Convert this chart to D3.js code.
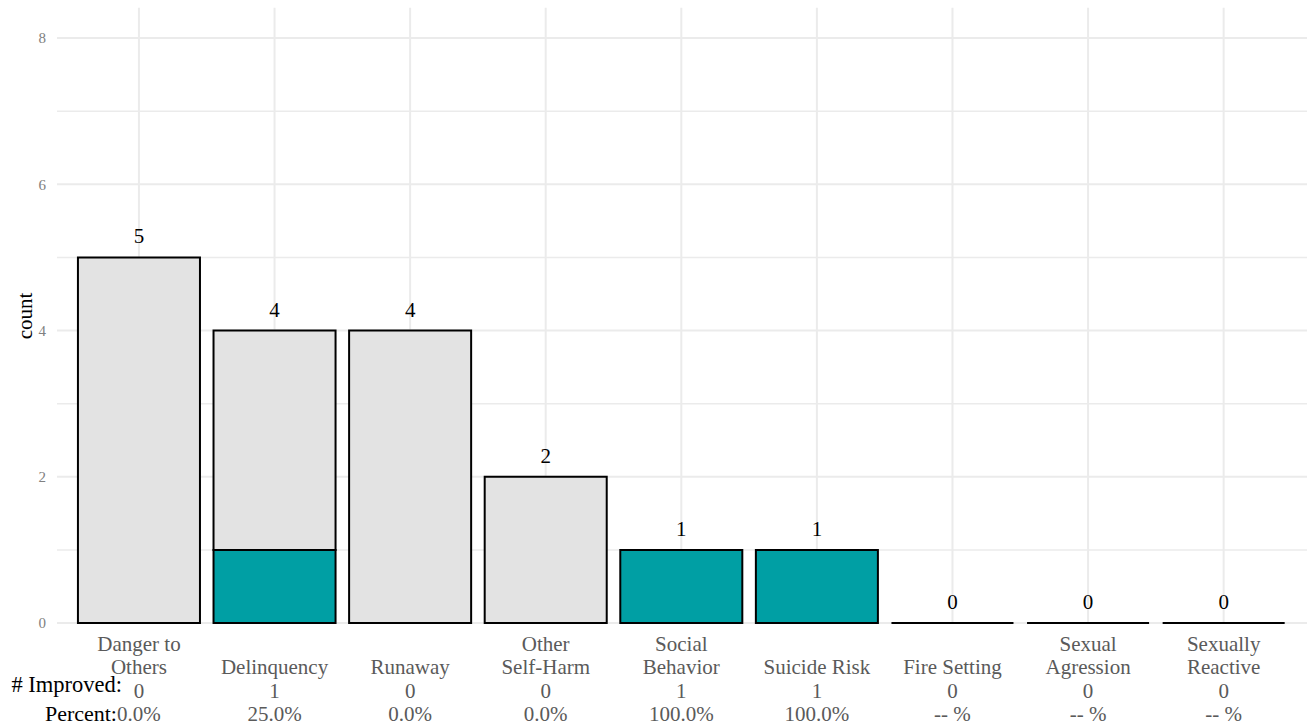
<!DOCTYPE html>
<html>
<head>
<meta charset="utf-8">
<script src="https://cdn.jsdelivr.net/npm/d3@7"></script>
<style>
  html, body { margin: 0; padding: 0; background: #fff; }
  svg { display: block; font-family: "Liberation Serif", "Times New Roman", serif; }
</style>
</head>
<body>
<svg id="chart" width="1307" height="728"></svg>
<script>
const categories = ["Danger to\nOthers", "Delinquency", "Runaway", "Other\nSelf-Harm", "Social\nBehavior", "Suicide Risk", "Fire Setting", "Sexual\nAgression", "Sexually\nReactive"];
const totals = [5, 4, 4, 2, 1, 1, 0, 0, 0];
const improved = [0, 1, 0, 0, 1, 1, 0, 0, 0];
const percentLabels = ["0.0%", "25.0%", "0.0%", "0.0%", "100.0%", "100.0%", "-- %", "-- %", "-- %"];
const yTicks = [0, 2, 4, 6, 8];
const yMinorTicks = [1, 3, 5, 7];

const svg = d3.select("#chart");
const panel = { left: 57.6, right: 1305, top: 8.75, bottom: 623 };

const x = d3.scaleBand().domain(categories).range([panel.left, panel.right]).paddingInner(0.1).paddingOuter(0.15);
const y = d3.scaleLinear().domain([0, 8.4]).range([panel.bottom, panel.top]);

const gridColor = "#EBEBEB";
svg.append("g").selectAll("line").data(yMinorTicks).join("line")
  .attr("x1", panel.left - 0.6).attr("x2", 1307)
  .attr("y1", d => y(d)).attr("y2", d => y(d))
  .attr("stroke", gridColor).attr("stroke-width", 1.5);
svg.append("g").selectAll("line").data(yTicks).join("line")
  .attr("x1", panel.left - 0.6).attr("x2", 1307)
  .attr("y1", d => y(d)).attr("y2", d => y(d))
  .attr("stroke", gridColor).attr("stroke-width", 2);
svg.append("g").selectAll("line").data(categories).join("line")
  .attr("x1", d => x(d) + x.bandwidth() / 2).attr("x2", d => x(d) + x.bandwidth() / 2)
  .attr("y1", panel.top - 1).attr("y2", panel.bottom)
  .attr("stroke", gridColor).attr("stroke-width", 2);

svg.append("g").selectAll("text").data(yTicks).join("text")
  .attr("x", 46).attr("y", d => y(d)).attr("dy", "0.35em")
  .attr("text-anchor", "end").attr("font-size", 15).attr("fill", "#808080")
  .text(d => d);

svg.append("text")
  .attr("transform", `translate(32, ${(panel.top + panel.bottom) / 2}) rotate(-90)`)
  .attr("text-anchor", "middle").attr("font-size", 21).attr("fill", "#000")
  .text("count");

function rectPath(x0, w, v0, v1) {
  const p = d3.path();
  p.moveTo(x0, y(v0));
  p.lineTo(x0 + w, y(v0));
  p.lineTo(x0 + w, y(v1));
  p.lineTo(x0, y(v1));
  p.closePath();
  return p.toString();
}

const rows = categories.map((c, i) => ({ c, total: totals[i], imp: improved[i], pct: percentLabels[i] }));
const bars = svg.append("g");
bars.selectAll("path.rest").data(rows).join("path").attr("class", "rest")
  .attr("d", d => rectPath(x(d.c), x.bandwidth(), d.imp, d.total))
  .attr("fill", "#E3E3E3").attr("stroke", "#000").attr("stroke-width", 2);
bars.selectAll("path.imp").data(rows.filter(d => d.imp > 0)).join("path").attr("class", "imp")
  .attr("d", d => rectPath(x(d.c), x.bandwidth(), 0, d.imp))
  .attr("fill", "#009FA4").attr("stroke", "#000").attr("stroke-width", 2);

svg.append("g").selectAll("text").data(rows).join("text")
  .attr("x", d => x(d.c) + x.bandwidth() / 2).attr("y", d => y(d.total) - 14)
  .attr("text-anchor", "middle").attr("font-size", 21).attr("fill", "#000")
  .text(d => d.total);

const lineH = 23.5, lastBase = 721;
const xl = svg.append("g");
rows.forEach((d, i) => {
  const lines = d.c.split("\n").concat([String(d.imp), d.pct]);
  const cx = x(d.c) + x.bandwidth() / 2;
  lines.forEach((t, j) => {
    xl.append("text")
      .attr("x", cx).attr("y", lastBase - (lines.length - 1 - j) * lineH)
      .attr("text-anchor", "middle").attr("font-size", 21).attr("fill", "#5a5a5a")
      .text(t);
  });
});

svg.append("text").attr("x", 122).attr("y", 692).attr("text-anchor", "end")
  .attr("font-size", 22.5).attr("fill", "#000").text("# Improved:");
svg.append("text").attr("x", 117).attr("y", 721).attr("text-anchor", "end")
  .attr("font-size", 22).attr("fill", "#000").text("Percent:");
</script>
</body>
</html>
